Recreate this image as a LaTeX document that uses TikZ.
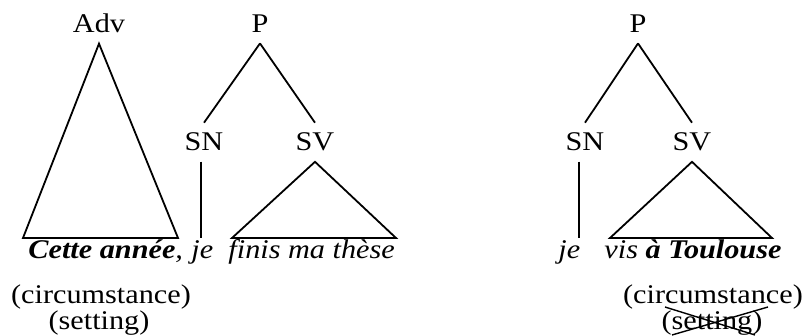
\documentclass[tikz,border=0pt]{standalone}
\usepackage{fontspec}
\setmainfont{Liberation Serif}
\usetikzlibrary{positioning,calc}

\begin{document}
\begin{tikzpicture}[
      x=0.5pt,
      y=-0.5pt,
      cat/.style={
        font=\fontsize{13.5}{16}\selectfont,
        inner sep=5pt,
        anchor=base,
        xscale=1.12
      },
      word/.style={
        font=\fontsize{13.5}{16}\selectfont\itshape,
        inner sep=0pt,
        anchor=base west,
        xscale=1.12
      },
      gloss/.style={
        font=\fontsize{13.5}{16}\selectfont,
        inner sep=0pt,
        anchor=base,
        xscale=1.12
      },
      edge/.style={line width=0.9pt},
      strike/.style={line width=0.7pt}
    ]
    \useasboundingbox (0,0) rectangle (810,336);

    % Coordinates: feet of the triangles and of the SN branches.
    \coordinate (A1) at (23,238);   % Adv, left
    \coordinate (A2) at (178,238);  % Adv, right
    \coordinate (J1) at (201,238);  % je
    \coordinate (B1) at (232,238);  % SV, left
    \coordinate (B2) at (396,238);  % SV, right
    \coordinate (J2) at (579,238);  % je (second tree)
    \coordinate (C1) at (610,238);  % SV, left
    \coordinate (C2) at (772,238);  % SV, right

    % Categories
    \node[cat] (adv) at (99,33) {Adv};
    \node[cat] (p1) at (260,33) {P};
    \node[cat] (sn1) at (204,151) {SN};
    \node[cat] (sv1) at (315,151) {SV};

    \node[cat] (p2) at (638,33) {P};
    \node[cat] (sn2) at (585,151) {SN};
    \node[cat] (sv2) at (692,151) {SV};

    % Edges
    \draw[edge] (adv.south) -- (A2) -- (A1) -- cycle;
    \draw[edge] (p1.south) -- (sn1.north);
    \draw[edge] (p1.south) -- (sv1.north);
    \draw[edge] (J1 |- sn1.south) -- (J1);
    \draw[edge] (sv1.south) -- (B2) -- (B1) -- cycle;

    \draw[edge] (p2.south) -- (sn2.north);
    \draw[edge] (p2.south) -- (sv2.north);
    \draw[edge] (J2 |- sn2.south) -- (J2);
    \draw[edge] (sv2.south) -- (C2) -- (C1) -- cycle;

    % Words
    \node[word] (w1) at (28,259) {\textbf{Cette année},};
    \node[word] (w2) at (191,259) {je};
    \node[word] (w3) at (228,259) {finis ma thèse};

    \node[word] (w4) at (558,259) {je};
    \node[word] (w5) at (604,259) {vis \textbf{à Toulouse}};

    % Glosses
    \node[gloss] (c1) at (101,304) {(circumstance)};
    \node[gloss] (s1) at (99,330) {(setting)};

    \node[gloss] (c2) at (713,304) {(circumstance)};
    \node[gloss] (s2) at (712,330) {(setting)};

    % Cross over the second (setting)
    \coordinate (X1) at (665,307);
    \coordinate (X2) at (755,335);
    \coordinate (X3) at (768,307);
    \coordinate (X4) at (672,335);
    \draw[strike] (X1) -- (X2);
    \draw[strike] (X3) -- (X4);

    \end{tikzpicture}
\end{document}
